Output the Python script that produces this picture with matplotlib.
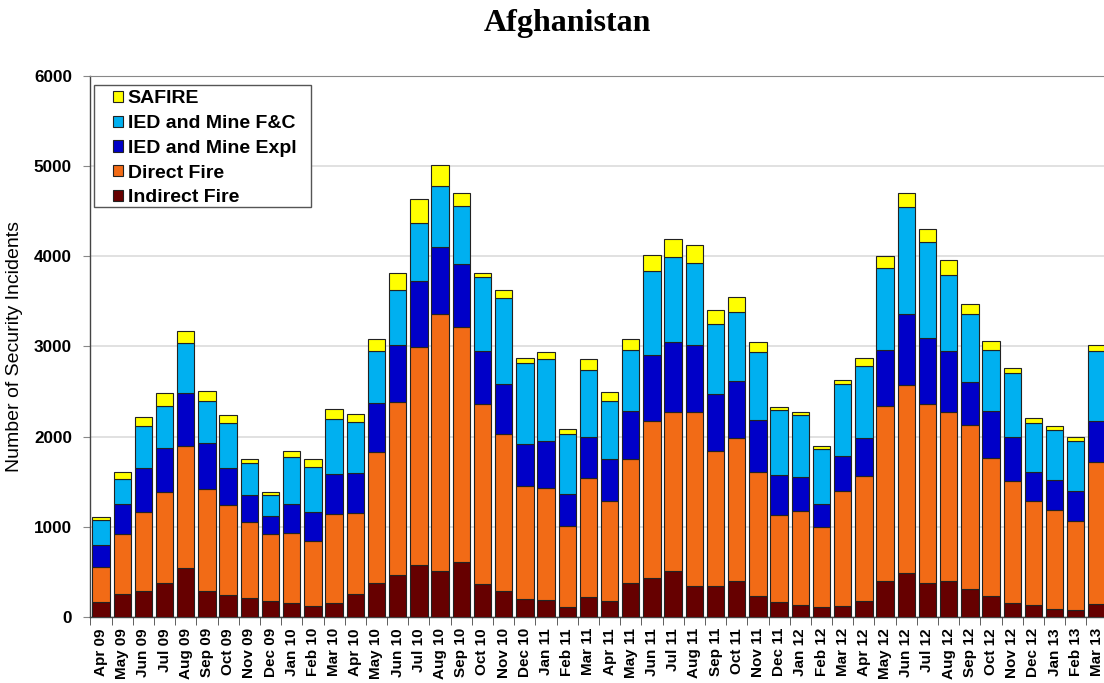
import matplotlib.pyplot as plt
import numpy as np
from matplotlib.patches import Rectangle
from matplotlib.ticker import MultipleLocator

months = [
    "Apr 09", "May 09", "Jun 09", "Jul 09", "Aug 09", "Sep 09", "Oct 09", "Nov 09", "Dec 09",
    "Jan 10", "Feb 10", "Mar 10", "Apr 10", "May 10", "Jun 10", "Jul 10", "Aug 10", "Sep 10",
    "Oct 10", "Nov 10", "Dec 10", "Jan 11", "Feb 11", "Mar 11", "Apr 11", "May 11", "Jun 11",
    "Jul 11", "Aug 11", "Sep 11", "Oct 11", "Nov 11", "Dec 11", "Jan 12", "Feb 12", "Mar 12",
    "Apr 12", "May 12", "Jun 12", "Jul 12", "Aug 12", "Sep 12", "Oct 12", "Nov 12", "Dec 12",
    "Jan 13", "Feb 13", "Mar 13",
]

indirect_fire = [
    170, 250, 283, 372, 545, 283, 242, 206, 174, 158, 121, 154, 255, 376, 465, 578,
    505, 614, 364, 283, 202, 186, 113, 218, 174, 380, 428, 505, 343, 343, 396, 234,
    170, 133, 109, 121, 182, 396, 485, 376, 396, 311, 234, 158, 129, 93, 81, 141,
]
direct_fire = [
    384, 667, 885, 1018, 1346, 1139, 1002, 853, 743, 779, 727, 989, 897, 1454, 1923, 2416,
    2853, 2598, 1996, 1745, 1253, 1248, 897, 1321, 1115, 1369, 1742, 1766, 1928, 1495, 1592, 1374,
    961, 1043, 885, 1273, 1382, 1947, 2093, 1984, 1875, 1818, 1524, 1349, 1156, 1099, 986, 1580,
]
ied_expl = [
    246, 336, 485, 481, 598, 509, 409, 295, 198, 316, 312, 445, 448, 542, 626, 735,
    751, 703, 585, 558, 464, 518, 356, 461, 460, 538, 739, 780, 751, 631, 630, 574,
    445, 380, 259, 396, 416, 615, 784, 735, 674, 477, 525, 485, 327, 327, 331, 453,
]
ied_fc = [
    271, 282, 468, 464, 549, 469, 501, 355, 243, 525, 505, 610, 566, 577, 614, 643,
    671, 647, 821, 949, 897, 905, 662, 739, 643, 675, 929, 945, 909, 784, 768, 755,
    715, 686, 606, 796, 808, 909, 1187, 1067, 849, 752, 675, 715, 542, 554, 554, 775,
]
safire = [
    40, 69, 97, 146, 134, 109, 88, 45, 28, 68, 89, 105, 89, 134, 190, 262,
    230, 137, 52, 89, 53, 84, 61, 118, 105, 117, 178, 198, 194, 153, 166, 118,
    36, 33, 36, 40, 89, 133, 158, 141, 162, 113, 101, 53, 48, 44, 48, 73,
]

series = [
    ("Indirect Fire", indirect_fire, "#660000"),
    ("Direct Fire", direct_fire, "#F26B16"),
    ("IED and Mine Expl", ied_expl, "#0000C8"),
    ("IED and Mine F&C", ied_fc, "#00B0F0"),
    ("SAFIRE", safire, "#FFFF00"),
]

fig = plt.figure(figsize=(11.04, 6.83), dpi=100)
ax = fig.add_axes([90 / 1104, 66 / 683, 1018 / 1104, 541 / 683])

x = np.arange(len(months))
bottom = np.zeros(len(months))
handles = []
for name, vals, color in series:
    vals = np.array(vals, dtype=float)
    h = ax.bar(x, vals, width=0.82, bottom=bottom, color=color,
               edgecolor="#222222", linewidth=0.8, label=name, zorder=3)
    handles.append(h)
    bottom += vals

ax.set_xlim(-0.52, len(months) - 0.48)
ax.set_ylim(0, 6000)
ax.yaxis.set_major_locator(MultipleLocator(1000))
ax.grid(axis="y", color="#dcdcdc", linewidth=1.2, zorder=0)

ax.set_xticks(x)
ax.set_xticklabels(months, rotation=90, fontsize=11, fontweight="bold",
                   family="Liberation Sans")
ax.set_xticks(np.arange(-0.5, len(months), 1), minor=True)
ax.tick_params(axis="x", which="major", length=0, pad=8)
ax.tick_params(axis="x", which="minor", length=6, color="#444444")
ax.tick_params(axis="y", length=5, color="#888888", pad=8)
for lbl in ax.get_yticklabels():
    lbl.set_fontsize(12.3)
    lbl.set_fontweight("bold")
    lbl.set_family("Liberation Sans")

for side in ["left", "bottom"]:
    ax.spines[side].set_color("#444444")
    ax.spines[side].set_linewidth(1.0)
ax.spines["top"].set_color("#888888")
ax.spines["right"].set_visible(False)

ax.set_ylabel("Number of Security Incidents", fontsize=14,
              family="Liberation Sans", labelpad=8)

# legend entries without frame, frame drawn separately (wider than the text block)
leg = ax.legend(handles[::-1], [s[0] for s in series][::-1], loc="upper left",
                bbox_to_anchor=(0.0226, 0.9735), frameon=False,
                prop={"family": "Liberation Sans", "weight": "bold", "size": 14},
                handlelength=0.5, handleheight=0.5, handletextpad=0.25,
                labelspacing=0.4, borderpad=0, borderaxespad=0)
leg.set_zorder(6)
ax.add_patch(Rectangle((0.0039, 0.7579), 0.2132, 0.2255, transform=ax.transAxes,
                       facecolor="white", edgecolor="#555555", linewidth=1.0,
                       zorder=5))

fig.text(567 / 1104, 1 - 24 / 683, "Afghanistan", ha="center", va="center",
         fontsize=23, fontweight="bold", family="Liberation Serif")

fig.savefig("out.png", dpi=100)
